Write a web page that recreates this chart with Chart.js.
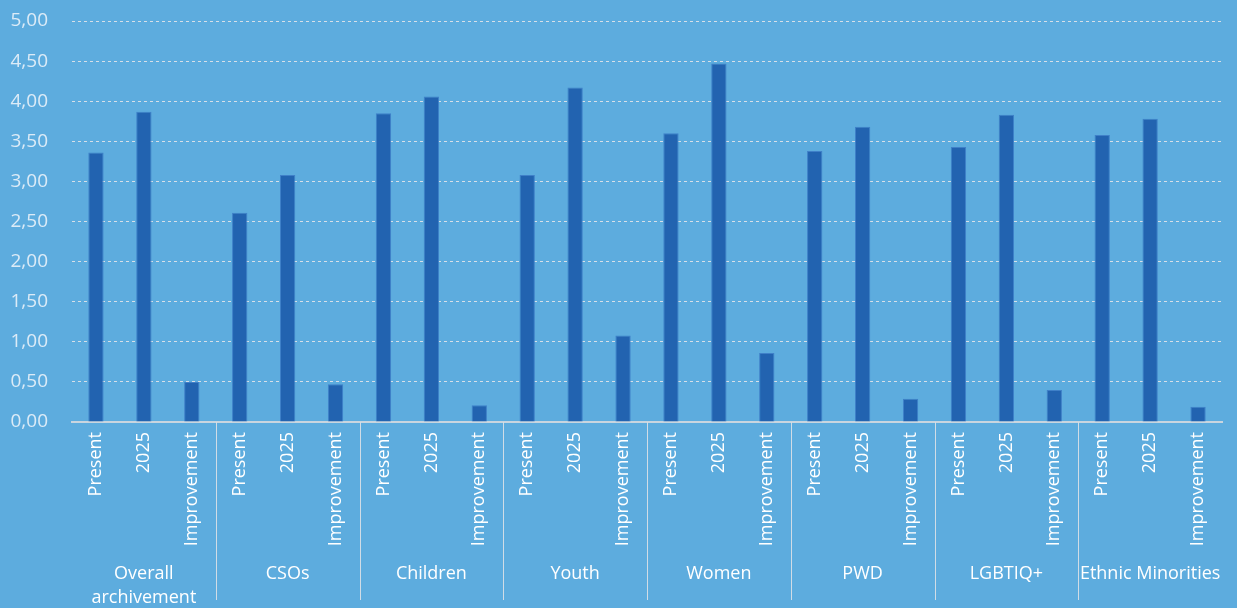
<!DOCTYPE html>
<html><head><meta charset="utf-8">
<script src="https://cdn.jsdelivr.net/npm/chart.js@4/dist/chart.umd.min.js"></script>
<style>html,body{margin:0;padding:0;background:#5DACDE;overflow:hidden}#wrap{width:1237px;height:608px;position:relative}</style>
</head><body><div id="wrap"><canvas id="c"></canvas></div>
<script>
const groups = [["Overall", "archivement"], ["CSOs"], ["Children"], ["Youth"], ["Women"], ["PWD"], ["LGBTIQ+"], ["Ethnic Minorities"]];
const subLabels = ["Present", "2025", "Improvement"];
const presentValues = [3.36, 2.61, 3.85, 3.08, 3.60, 3.38, 3.43, 3.58];
const year2025Values = [3.87, 3.08, 4.06, 4.17, 4.47, 3.68, 3.83, 3.78];
const improvementValues = [0.50, 0.47, 0.21, 1.08, 0.86, 0.29, 0.40, 0.19];
const yMin = 0, yMax = 5, yStep = 0.5;

const labels = [];
const values = [];
groups.forEach((g, i) => {
  labels.push(subLabels[0], subLabels[1], subLabels[2]);
  values.push(presentValues[i], year2025Values[i], improvementValues[i]);
});

const FONT = "'Open Sans', 'Noto Sans', sans-serif";

const groupPlugin = {
  id: 'groupPlugin',
  afterDraw(chart) {
    const ctx = chart.ctx;
    const xs = chart.scales.x;
    const bottom = chart.chartArea.bottom;
    ctx.save();
    ctx.strokeStyle = 'rgba(214,222,230,0.95)';
    ctx.lineWidth = 1;
    for (let g = 1; g < groups.length; g++) {
      const x = Math.round((xs.getPixelForValue(3 * g - 1) + xs.getPixelForValue(3 * g)) / 2) + 0.5;
      ctx.beginPath();
      ctx.moveTo(x, bottom);
      ctx.lineTo(x, bottom + 178);
      ctx.stroke();
    }
    ctx.fillStyle = '#FFFFFF';
    ctx.font = "18px " + FONT;
    ctx.textAlign = 'center';
    ctx.textBaseline = 'middle';
    groups.forEach((g, i) => {
      const cx = xs.getPixelForValue(3 * i + 1);
      g.forEach((line, k) => {
        ctx.fillText(line, cx, bottom + 152 + k * 23.5);
      });
    });
    ctx.restore();
  }
};

new Chart(document.getElementById('c'), {
  type: 'bar',
  data: {
    labels: labels,
    datasets: [{
      data: values,
      backgroundColor: '#2263B0',
      borderColor: '#3F80C8',
      borderWidth: 1,
      barPercentage: 0.32,
      categoryPercentage: 1.0
    }]
  },
  options: {
    responsive: true,
    maintainAspectRatio: false,
    animation: false,
    layout: { padding: { left: 0, right: 15, top: 21, bottom: 0 } },
    plugins: { legend: { display: false }, tooltip: { enabled: false } },
    scales: {
      x: {
        grid: { display: true, drawOnChartArea: false, drawTicks: false },
        border: { display: true, color: '#C9D5DF', width: 2 },
        ticks: {
          color: '#FFFFFF',
          font: { family: FONT, size: 18 },
          maxRotation: 90, minRotation: 90,
          autoSkip: false,
          padding: 10
        },
        afterFit(scale) { scale.height = 186; }
      },
      y: {
        min: yMin, max: yMax,
        grid: { color: 'rgba(220,226,232,0.95)', lineWidth: 1, drawTicks: false },
        border: { display: false, dash: [3, 3] },
        ticks: {
          stepSize: yStep,
          color: '#DCEBF7',
          font: { family: FONT, size: 19 },
          padding: 24,
          callback: (v) => Number(v).toFixed(2).replace('.', ',')
        },
        afterFit(scale) { scale.width = 72; scale.paddingTop = 0; scale.paddingBottom = 0; }
      }
    }
  },
  plugins: [groupPlugin]
});
</script>
</body></html>
